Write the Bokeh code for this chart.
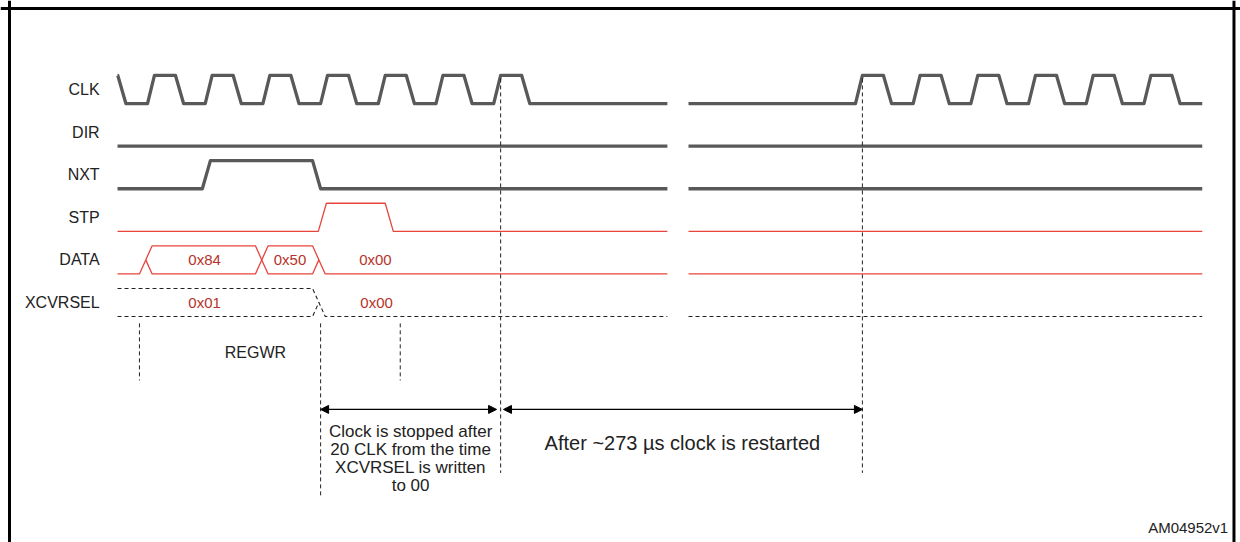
import numpy as np
from bokeh.plotting import figure
from bokeh.models import Range1d, Span, Arrow, NormalHead
from bokeh.embed import file_html
from bokeh.resources import INLINE

# ---------------- data (time in clock periods, one lane per signal) ----------------
SIGNALS = ["CLK", "DIR", "NXT", "STP", "DATA", "XCVRSEL"]
SEGMENTS = [(-0.52, 9.01), (9.376, 18.28)]          # drawn windows; the gap is the stopped clock
CLK_RISES = [-1, 0, 1, 2, 3, 4, 5, 6, 12.27, 13.27, 14.27, 15.27, 16.27, 17.27]
CLK_PHASES = [0.0, 0.12, 0.485, 0.625]               # rise start, high, fall start, low (fraction of period)
NXT_EDGES = [(0.95, 1), (2.86, 0)]                   # (time, new level)
STP_EDGES = [(2.96, 1), (4.12, 0)]
DIR_LEVEL = 0
DATA_INIT = "low"
DATA_TRANSITIONS = [(-0.14, "bus"), (1.87, "bus"), (2.86, "low")]
DATA_VALUES = ["0x84", "0x50", "0x00"]
DATA_VALUE_T = [0.99, 2.47, 3.95]
XCVRSEL_INIT = "bus"
XCVRSEL_TRANSITIONS = [(2.86, "low")]
XCVRSEL_VALUES = ["0x01", "0x00"]
XCVRSEL_VALUE_T = [0.99, 3.97]
EDGE_W = 0.14          # single-line edge width
BUS_W = 0.22           # bus crossing width
# reference markers: (time, top lane pos, bottom lane pos)
MARKERS = [(-0.14, 5.49, 6.83), (3.0, 5.49, 9.55), (4.38, 5.49, 6.83),
           (6.12, -0.26, 9.0), (12.39, -0.26, 9.0)]
SPANS = [(3.0, 6.05, 7.51), (6.17, 12.39, 7.51)]
NOTE_LEFT = ["Clock is stopped after", "20 CLK from the time", "XCVRSEL is written", "to 00"]
NOTE_RIGHT = "After ~273 \u00b5s clock is restarted"
CODE = "AM04952v1"

AMP = 0.33
GRAY = "#595959"
RED = "#e8443c"
RED_TXT = "#b8322a"
INK = "#222222"
FONT = "Liberation Sans"

p = figure(width=1240, height=542, output_backend="svg", toolbar_location=None,
           x_range=Range1d(-2.548, 18.943), y_range=Range1d(10.634, -2.089),
           min_border=0)
p.xaxis.visible = False
p.yaxis.visible = False
p.grid.visible = False
p.outline_line_color = None
p.background_fill_color = "white"


def lvl(row, v):
    return row - AMP if v else row + AMP


def edges_wave(row, init, edges, seg):
    bx, by = [seg[0]], [lvl(row, init)]
    cur = init
    for t, new in edges:
        bx += [t, t + EDGE_W]
        by += [lvl(row, cur), lvl(row, new)]
        cur = new
    bx.append(seg[1]); by.append(lvl(row, cur))
    a, b = seg
    xs = [a] + [x for x in bx if a < x < b] + [b]
    ys = list(np.interp(xs, bx, by))
    return xs, ys


def clk_wave(row, seg):
    bx, by = [], []
    for r in CLK_RISES:
        bx += [r + ph for ph in CLK_PHASES]
        by += [lvl(row, 0), lvl(row, 1), lvl(row, 1), lvl(row, 0)]
    a, b = seg
    xs = [a] + [x for x in bx if a < x < b] + [b]
    ys = list(np.interp(xs, bx, by))
    return xs, ys


def bus_lines(row, seg, init, transitions):
    hi, lo, mid = row - AMP, row + AMP, row
    start, end = seg
    lines = []
    if init == "bus":
        tracks = {"hi": ([start], [hi]), "lo": ([start], [lo])}
    else:
        tracks = {"lo": ([start], [lo])}
    state = init
    for t, new in transitions:
        if not (start <= t <= end):
            continue
        w = BUS_W
        if state == "low" and new == "bus":
            a = tracks["lo"]; a[0].extend([t, t + w]); a[1].extend([lo, hi])
            b = ([t + w / 2, t + w], [mid, lo])
            tracks = {"hi": a, "lo": b}
        elif state == "bus" and new == "bus":
            a = tracks["hi"]; a[0].extend([t, t + w]); a[1].extend([hi, lo])
            b = tracks["lo"]; b[0].extend([t, t + w]); b[1].extend([lo, hi])
            tracks = {"hi": b, "lo": a}
        elif state == "bus" and new == "low":
            a = tracks["hi"]; a[0].extend([t, t + w]); a[1].extend([hi, lo])
            b = tracks["lo"]; b[0].extend([t, t + w / 2]); b[1].extend([lo, mid])
            lines.append(b)
            tracks = {"lo": a}
        state = new
    for tr in tracks.values():
        tr[0].append(end); tr[1].append(tr[1][-1])
        lines.append(tr)
    return lines, state


row = {s: i for i, s in enumerate(SIGNALS)}

# single-line signals
for seg in SEGMENTS:
    xs, ys = clk_wave(row["CLK"], seg)
    p.line(xs, ys, line_color=GRAY, line_width=3.3, line_join="round")
    xs, ys = edges_wave(row["DIR"], DIR_LEVEL, [], seg)
    p.line(xs, ys, line_color=GRAY, line_width=3.3)
    xs, ys = edges_wave(row["NXT"], 0, NXT_EDGES, seg)
    p.line(xs, ys, line_color=GRAY, line_width=3.3, line_join="round")
    xs, ys = edges_wave(row["STP"], 0, STP_EDGES, seg)
    p.line(xs, ys, line_color=RED, line_width=1.3)

# buses
d_state, x_state = DATA_INIT, XCVRSEL_INIT
for seg in SEGMENTS:
    lines, d_state = bus_lines(row["DATA"], seg, d_state, DATA_TRANSITIONS)
    p.multi_line([l[0] for l in lines], [l[1] for l in lines], line_color=RED, line_width=1.3)
    lines, x_state = bus_lines(row["XCVRSEL"], seg, x_state, XCVRSEL_TRANSITIONS)
    p.multi_line([l[0] for l in lines], [l[1] for l in lines], line_color=INK,
                 line_width=1.1, line_dash="4 3")

# values
p.text(DATA_VALUE_T, [row["DATA"]] * len(DATA_VALUES), text=DATA_VALUES,
       text_color=RED_TXT, text_font_size="15px", text_font={"value": FONT},
       text_align="center", text_baseline="middle")
p.text(XCVRSEL_VALUE_T, [row["XCVRSEL"]] * len(XCVRSEL_VALUES), text=XCVRSEL_VALUES,
       text_color=RED_TXT, text_font_size="15px", text_font={"value": FONT},
       text_align="center", text_baseline="middle")

# signal names
p.text([-0.83] * len(SIGNALS), list(range(len(SIGNALS))), text=SIGNALS,
       text_color=INK, text_font_size="16px", text_font={"value": FONT},
       text_align="right", text_baseline="middle")

# markers
p.segment([m[0] for m in MARKERS], [m[1] for m in MARKERS],
          [m[0] for m in MARKERS], [m[2] for m in MARKERS],
          line_color=INK, line_width=1, line_dash="4 3")

for a, b, y in SPANS:
    p.add_layout(Arrow(x_start=a, y_start=y, x_end=b, y_end=y, line_color="black",
                       line_width=1.2,
                       start=NormalHead(size=8, fill_color="black", line_color="black"),
                       end=NormalHead(size=8, fill_color="black", line_color="black")))

p.text([1.87], [6.17], text=["REGWR"], text_color=INK, text_font_size="16px",
       text_font={"value": FONT}, text_align="center", text_baseline="middle")
p.text([4.56] * len(NOTE_LEFT), [8.03, 8.45, 8.87, 9.30], text=NOTE_LEFT,
       text_color=INK, text_font_size="17px", text_font={"value": FONT},
       text_align="center", text_baseline="middle")
p.text([9.27], [8.31], text=[NOTE_RIGHT], text_color=INK, text_font_size="20px",
       text_font={"value": FONT}, text_align="center", text_baseline="middle")
p.text([18.73], [10.28], text=[CODE], text_color=INK, text_font_size="15px",
       text_font={"value": FONT}, text_align="right", text_baseline="middle")

# frame (left, top, right)
p.add_layout(Span(location=-2.392, dimension="height", line_color="black", line_width=3))
p.add_layout(Span(location=18.83, dimension="height", line_color="black", line_width=3))
p.add_layout(Span(location=-1.901, dimension="width", line_color="black", line_width=3))

open("out.html", "w").write(file_html(p, INLINE))
